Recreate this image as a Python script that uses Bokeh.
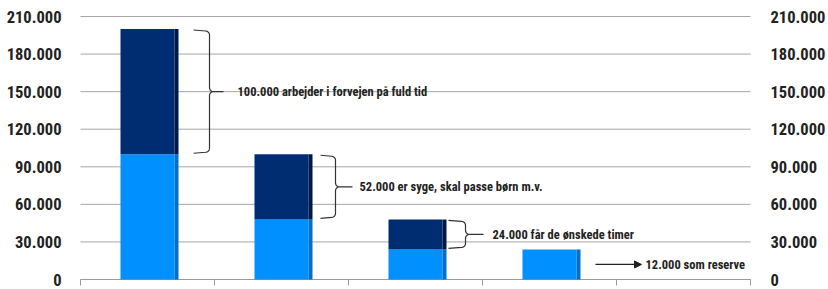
import numpy as np
from bokeh.plotting import figure
from bokeh.models import Range1d, Arrow, NormalHead
from bokeh.core.properties import value
from bokeh.embed import file_html
from bokeh.resources import INLINE

# ---- data ----
light_vals = [100000, 48000, 24000, 24000]
dark_vals = [100000, 52000, 24000, 0]
n_slots = 5
y_ticks = [0, 30000, 60000, 90000, 120000, 150000, 180000, 210000]
y_tick_labels = ["0", "30.000", "60.000", "90.000", "120.000", "150.000", "180.000", "210.000"]
notes = ["100.000 arbejder i forvejen på fuld tid",
         "52.000 er syge, skal passe børn m.v.",
         "24.000 får de ønskede timer"]
reserve_note = "12.000 som reserve"

# ---- layout / style (pixels) ----
W, H = 828, 289
FONT = "Roboto Condensed"
LEFT_PX, RIGHT_PX = 80, 78        # space left/right of the plotting area
TOP_PX, ZERO_PX = 16, 279         # y of top gridline and zero line from canvas top
XPX = (W - LEFT_PX - RIGHT_PX) / n_slots
YMAX = y_ticks[-1]
YPX = (ZERO_PX - TOP_PX) / YMAX
LIGHT, LIGHT_SIDE = "#0090FF", "#0070C8"
DARK, DARK_SIDE = "#002D72", "#001A48"
TXT = "#222222"
AXC = "#9a9a9a"
GRID = "#a6a6a6"
face_w = 54 / XPX
side_w = 4 / XPX

p = figure(width=W, height=H,
           x_range=Range1d(-LEFT_PX / XPX, n_slots + RIGHT_PX / XPX),
           y_range=Range1d(-(H - ZERO_PX) / YPX, YMAX + TOP_PX / YPX),
           output_backend="svg", toolbar_location=None, min_border=0)
p.outline_line_color = None
p.background_fill_color = "white"
p.border_fill_color = "white"
p.axis.visible = False
p.grid.visible = False

n = len(light_vals)
xc = [i + 0.5 for i in range(n)]
tot = [a + b for a, b in zip(light_vals, dark_vals)]
xs_side = [c + face_w / 2 + side_w / 2 for c in xc]

# horizontal gridlines over the plotting area
p.segment(x0=[0] * len(y_ticks), y0=y_ticks, x1=[n_slots] * len(y_ticks), y1=y_ticks,
          line_color=GRID, line_width=1)
# baseline with slot ticks
slots = list(range(n_slots + 1))
p.segment(x0=[0], y0=[0], x1=[n_slots], y1=[0], line_color=AXC, line_width=1)
p.segment(x0=slots, y0=[0] * len(slots), x1=slots, y1=[-6 / YPX] * len(slots),
          line_color=AXC, line_width=1)

# y tick labels on both sides
for xpos, al in [(-19 / XPX, "right"), (n_slots + 20 / XPX, "left")]:
    p.text(x=[xpos] * len(y_ticks), y=y_ticks, text=y_tick_labels, text_align=al,
           text_baseline="middle", text_font=value(FONT), text_font_style="bold",
           text_font_size="16.5px", text_color=TXT)

# bars
p.vbar(x=xc, width=face_w, bottom=0, top=light_vals, fill_color=LIGHT, line_color=None)
p.vbar(x=xs_side, width=side_w, bottom=0, top=light_vals, fill_color=LIGHT_SIDE, line_color=None)
p.vbar(x=xc, width=face_w, bottom=light_vals, top=tot, fill_color=DARK, line_color=None)
p.vbar(x=xs_side, width=side_w, bottom=light_vals, top=tot, fill_color=DARK_SIDE, line_color=None)

# braces (pixel offsets from slot's left edge: end, vertical, tip, text)
brace_px = [(113, 129, 143, 157), (106, 121, 138, 145), (100, 117, 135, 144)]
r = 4.0
bxs, bys, tx, ty = [], [], [], []
for i, (xe, xv, xt, xtxt) in enumerate(brace_px):
    base = i * XPX
    xe, xv, xt = base + xe, base + xv, base + xt
    Yt = tot[i] * YPX - 2
    Yb = light_vals[i] * YPX + 2
    Ym = (tot[i] + light_vals[i]) / 2 * YPX
    pts = [(xe, Yt + 1)]
    for th in np.linspace(np.pi / 2, 0, 8):
        pts.append((xv - r + r * np.cos(th), Yt - r + r * np.sin(th)))
    for th in np.linspace(np.pi, 1.5 * np.pi, 8):
        pts.append((xv + r + r * np.cos(th), Ym + r + r * np.sin(th)))
    pts.append((xt, Ym))
    for th in np.linspace(0.5 * np.pi, np.pi, 8):
        pts.append((xv + r + r * np.cos(th), Ym - r + r * np.sin(th)))
    for th in np.linspace(0, -0.5 * np.pi, 8):
        pts.append((xv - r + r * np.cos(th), Yb + r + r * np.sin(th)))
    pts.append((xe, Yb - 1))
    bxs.append([q[0] / XPX for q in pts])
    bys.append([q[1] / YPX for q in pts])
    tx.append((base + xtxt) / XPX)
    ty.append((tot[i] + light_vals[i]) / 2)

p.multi_line(xs=bxs, ys=bys, line_color="#333333", line_width=1.2)
p.text(x=tx, y=ty, text=notes, text_font=value(FONT), text_font_style="bold",
       text_font_size="12.5px", text_baseline="middle", text_align="left", text_color=TXT)

# reserve arrow
ai = 3
ay = light_vals[ai] / 2
p.add_layout(Arrow(end=NormalHead(size=7, fill_color="#222222", line_color="#222222"),
                   x_start=(ai * XPX + 113) / XPX, y_start=ay,
                   x_end=(ai * XPX + 159) / XPX, y_end=ay,
                   line_color="#222222", line_width=1.2))
p.text(x=[(ai * XPX + 163) / XPX], y=[ay], text=[reserve_note], text_font=value(FONT),
       text_font_style="bold", text_font_size="12.5px", text_baseline="middle",
       text_align="left", text_color=TXT)

open("out.html", "w").write(file_html(p, INLINE))
